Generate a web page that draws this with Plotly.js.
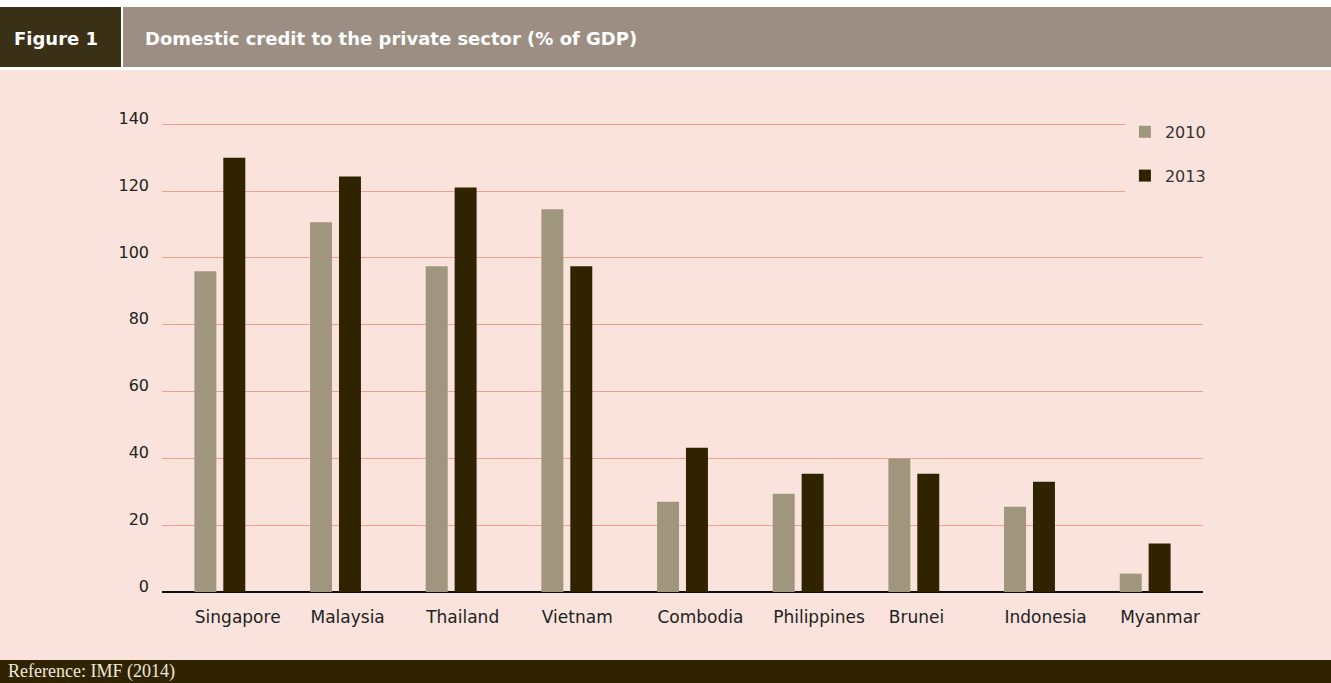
<!DOCTYPE html>
<html lang="en">
<head>
    <meta charset="UTF-8">
    <title>Domestic credit to the private sector</title>
    <script src="https://cdn.plot.ly/plotly-3.0.1.min.js"></script>
    <style>
        body {
            margin: 0;
            width: 1331px;
            height: 683px;
            overflow: hidden;
            background: white;
            font-family: "DejaVu Sans", sans-serif;
        }

        #header {
            position: absolute;
            top: 7px;
            left: 0;
            width: 1331px;
            height: 60px;
            background: #9c8e82;
        }

        #fig-label {
            position: absolute;
            left: 0;
            top: 0;
            width: 121px;
            height: 60px;
            background: #3a3016;
            border-right: 2px solid white;
        }

        #header span {
            position: absolute;
            top: 21px;
            color: white;
            font-weight: bold;
            font-size: 18px;
            line-height: 22px;
        }

        #plot {
            position: absolute;
            top: 70px;
            left: 0;
            width: 1331px;
            height: 590px;
        }

        #footer {
            position: absolute;
            top: 660px;
            left: 0;
            width: 1331px;
            height: 23px;
            background: #302400;
            overflow: hidden;
        }

        #footer span {
            position: absolute;
            left: 8px;
            top: 1px;
            color: #f0e8dc;
            font-family: "Liberation Serif", "DejaVu Serif", serif;
            font-size: 18px;
            line-height: 21px;
        }
    </style>
</head>
<body>
    <div id="header">
        <div id="fig-label"></div>
        <span style="left: 14px;">Figure 1</span>
        <span style="left: 145px;">Domestic credit to the private sector (% of GDP)</span>
    </div>
    <div id="plot"></div>
    <div id="footer"><span>Reference: IMF (2014)</span></div>

    <script>
        const countries = ['Singapore', 'Malaysia', 'Thailand', 'Vietnam', 'Combodia',
                           'Philippines', 'Brunei', 'Indonesia', 'Myanmar'];
        const credit2010 = [96, 110.7, 97.5, 114.6, 27, 29.4, 40, 25.5, 5.5];
        const credit2013 = [130, 124.4, 121.1, 97.5, 43.2, 35.4, 35.4, 33, 14.5];
        const yTicks = [0, 20, 40, 60, 80, 100, 120, 140];

        const fontFamily = '"DejaVu Sans", sans-serif';

        const trace2010 = {
            x: countries,
            y: credit2010,
            type: 'bar',
            name: '2010',
            legendgroup: 'a',
            marker: { color: '#a0967e' },
            hoverinfo: 'x+y'
        };

        const trace2013 = {
            x: countries,
            y: credit2013,
            type: 'bar',
            name: '2013',
            legendgroup: 'b',
            marker: { color: '#302400' },
            hoverinfo: 'x+y'
        };

        const layout = {
            width: 1331,
            height: 590,
            margin: { l: 162, r: 128, t: 51, b: 68 },
            paper_bgcolor: '#fae3dc',
            plot_bgcolor: '#fae3dc',
            barmode: 'group',
            bargap: 0.5,
            bargroupgap: 0.24,
            font: { family: fontFamily, size: 16, color: '#222' },
            xaxis: {
                type: 'category',
                showgrid: false,
                showline: false,
                ticks: '',
                tickfont: { family: fontFamily, size: 17, color: '#222' },
                ticklabelposition: 'outside right',
                ticklabelshift: -25,
                ticklabelstandoff: 13
            },
            yaxis: {
                range: [0, 141],
                tickvals: yTicks,
                ticks: '',
                showgrid: true,
                gridcolor: '#eea08c',
                gridwidth: 1,
                zeroline: true,
                zerolinecolor: '#111',
                zerolinewidth: 2,
                showline: false,
                tickfont: { family: fontFamily, size: 16, color: '#222' },
                ticklabelstandoff: 12,
                ticklabelshift: -6
            },
            showlegend: true,
            legend: {
                x: 0.925,
                y: 1.013,
                xanchor: 'left',
                yanchor: 'top',
                bgcolor: '#fae3dc',
                font: { family: fontFamily, size: 16, color: '#333' },
                traceorder: 'grouped',
                tracegroupgap: 20
            }
        };

        Plotly.newPlot('plot', [trace2010, trace2013], layout, { displayModeBar: false });
    </script>
</body>
</html>
